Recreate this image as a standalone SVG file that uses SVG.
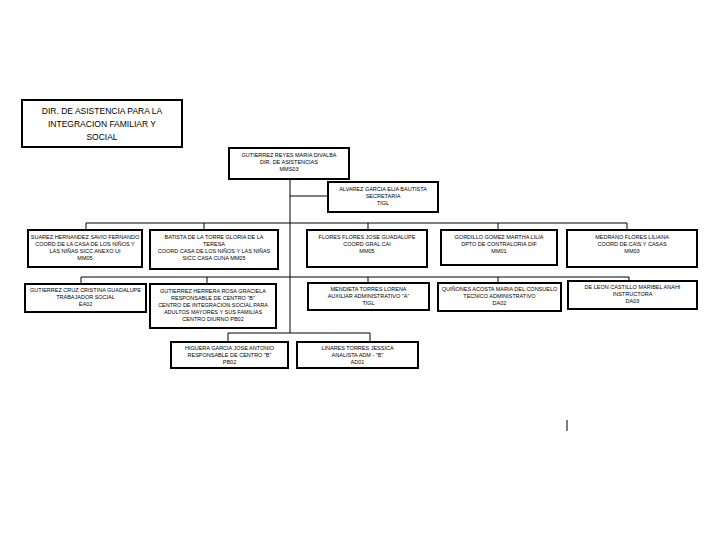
<svg xmlns="http://www.w3.org/2000/svg" width="720" height="540" viewBox="0 0 720 540">
<style>
.box{fill:#fff;stroke:#000;stroke-width:2}
.t{font-family:"Liberation Sans",Arial,sans-serif;font-size:5.5px;fill:#000;text-anchor:middle}
.title{font-family:"Liberation Sans",Arial,sans-serif;font-size:8.5px;fill:#000;text-anchor:middle}
.c{fill:none;stroke:#000;stroke-width:1}
</style>
<rect width="720" height="540" fill="#fff"/>
<g id="connectors">
<path class="c" d="M290,179 V333"/>
<path class="c" d="M290,196 H328"/>
<path class="c" d="M86,223 H627 M86,223 V230 M204,223 V230 M368,223 V230 M498,223 V230 M627,223 V230"/>
<path class="c" d="M81,277 H629 M81,277 V284 M207,277 V284 M368,277 V283 M498,277 V283 M629,277 V281"/>
<path class="c" d="M228,333 H370 M228,333 V342 M370,333 V342"/>
</g>
<g id="n-title">
<rect class="box" x="22" y="100" width="160" height="47" stroke-width="2.5"/>
<text class="title" x="102" y="114">DIR. DE ASISTENCIA PARA LA</text>
<text class="title" x="102" y="127">INTEGRACION FAMILIAR Y</text>
<text class="title" x="102" y="140">SOCIAL</text>
</g>
<g id="n-dir">
<rect class="box" x="229" y="148" width="120" height="31"/>
<text class="t" x="289" y="157">GUTIERREZ REYES MARIA DIVALBA</text>
<text class="t" x="289" y="164">DIR. DE ASISTENCIAS</text>
<text class="t" x="289" y="171">MMS03</text>
</g>
<g id="n-sec">
<rect class="box" x="328" y="182" width="110" height="30"/>
<text class="t" x="383" y="191">ALVAREZ GARCIA ELIA BAUTISTA</text>
<text class="t" x="383" y="198">SECRETARIA</text>
<text class="t" x="383" y="205">TIGL</text>
</g>
<g id="n-a">
<rect class="box" x="28" y="230" width="114" height="37"/>
<text class="t" x="85" y="239">SUAREZ HERNANDEZ SAVIO FERNANDO</text>
<text class="t" x="85" y="246">COORD DE LA CASA DE LOS NIÑOS Y</text>
<text class="t" x="85" y="253">LAS NIÑAS SICC ANEXO UI</text>
<text class="t" x="85" y="260">MM05</text>
</g>
<g id="n-b">
<rect class="box" x="150" y="230" width="128" height="39"/>
<text class="t" x="214" y="239">BATISTA DE LA TORRE GLORIA DE LA</text>
<text class="t" x="214" y="246">TERESA</text>
<text class="t" x="214" y="253">COORD CASA DE LOS NIÑOS Y LAS NIÑAS</text>
<text class="t" x="214" y="260">SICC CASA CUNA MM05</text>
</g>
<g id="n-c">
<rect class="box" x="307" y="230" width="120" height="37"/>
<text class="t" x="367" y="239">FLORES FLORES JOSE GUADALUPE</text>
<text class="t" x="367" y="246">COORD GRAL CAI</text>
<text class="t" x="367" y="253">MM05</text>
</g>
<g id="n-d">
<rect class="box" x="441" y="230" width="116" height="35"/>
<text class="t" x="499" y="239">GORDILLO GOMEZ MARTHA LILIA</text>
<text class="t" x="499" y="246">DPTO DE CONTRALORIA DIF</text>
<text class="t" x="499" y="253">MM01</text>
</g>
<g id="n-e">
<rect class="box" x="567" y="230" width="130" height="37"/>
<text class="t" x="632" y="239">MEDRANO FLORES LILIANA</text>
<text class="t" x="632" y="246">COORD DE CAIS Y CASAS</text>
<text class="t" x="632" y="253">MM03</text>
</g>
<g id="n-f">
<rect class="box" x="25" y="284" width="121" height="28"/>
<text class="t" x="85.5" y="292">GUTIERREZ CRUZ CRISTINA GUADALUPE</text>
<text class="t" x="85.5" y="299">TRABAJADOR SOCIAL</text>
<text class="t" x="85.5" y="306">EA02</text>
</g>
<g id="n-g">
<rect class="box" x="150" y="284" width="126" height="44"/>
<text class="t" x="213" y="293">GUTIERREZ HERRERA ROSA GRACIELA</text>
<text class="t" x="213" y="300">RESPONSABLE DE CENTRO "B"</text>
<text class="t" x="213" y="307">CENTRO DE INTEGRACION SOCIAL PARA</text>
<text class="t" x="213" y="314">ADULTOS MAYORES Y SUS FAMILIAS</text>
<text class="t" x="213" y="321">CENTRO DIURNO PB02</text>
</g>
<g id="n-h">
<rect class="box" x="308" y="283" width="121" height="27"/>
<text class="t" x="368.5" y="291">MENDIETA TORRES LORENA</text>
<text class="t" x="368.5" y="298">AUXILIAR ADMINISTRATIVO "A"</text>
<text class="t" x="368.5" y="305">TIGL</text>
</g>
<g id="n-i">
<rect class="box" x="438" y="283" width="123" height="28"/>
<text class="t" x="499.5" y="291">QUIÑONES ACOSTA MARIA DEL CONSUELO</text>
<text class="t" x="499.5" y="298">TECNICO ADMINISTRATIVO</text>
<text class="t" x="499.5" y="305">DA02</text>
</g>
<g id="n-j">
<rect class="box" x="568" y="281" width="129" height="28"/>
<text class="t" x="632.5" y="289">DE LEON CASTILLO MARIBEL ANAHI</text>
<text class="t" x="632.5" y="296">INSTRUCTORA</text>
<text class="t" x="632.5" y="303">DA03</text>
</g>
<g id="n-k">
<rect class="box" x="171" y="342" width="117" height="26"/>
<text class="t" x="229.5" y="350">HIGUERA GARCIA JOSE ANTONIO</text>
<text class="t" x="229.5" y="357">RESPONSABLE DE CENTRO "B"</text>
<text class="t" x="229.5" y="364">PB02</text>
</g>
<g id="n-l">
<rect class="box" x="297" y="342" width="121" height="26"/>
<text class="t" x="357.5" y="350">LINARES TORRES JESSICA</text>
<text class="t" x="357.5" y="357">ANALISTA ADM - "B"</text>
<text class="t" x="357.5" y="364">AD01</text>
</g>
<line x1="567" y1="420" x2="567" y2="431" stroke="#000" stroke-width="1"/>
</svg>
